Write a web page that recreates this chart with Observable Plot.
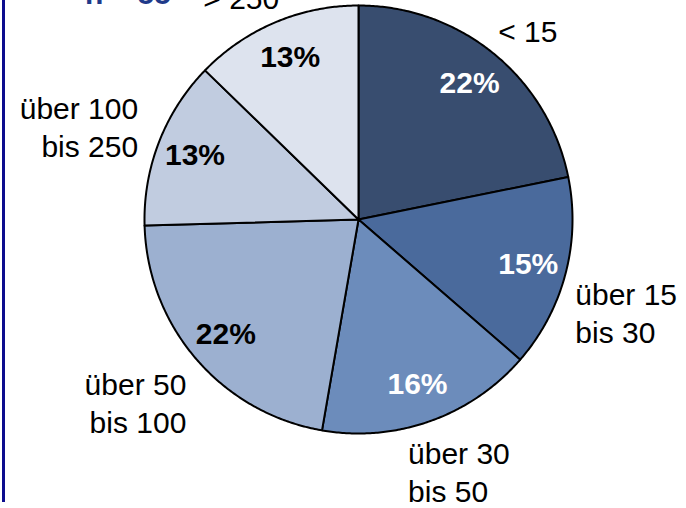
<!DOCTYPE html>
<html><head><meta charset="utf-8">
<script src="https://cdn.jsdelivr.net/npm/d3@7"></script>
<script src="https://cdn.jsdelivr.net/npm/@observablehq/plot@0.6"></script>
<style>
body{margin:0;background:#fff;}
#wrap{position:relative;width:686px;height:508px;overflow:hidden;font-family:"Liberation Sans",Arial,Helvetica,sans-serif;}
#bar{position:absolute;left:2px;top:0;width:3px;height:502px;background:#0c0c8e;}
#n{position:absolute;left:85px;top:-21px;font-size:30px;font-weight:bold;color:#1f3a8a;line-height:30px;white-space:nowrap;}
#chart{position:absolute;left:0;top:0;}
</style></head><body>
<div id="wrap"><div id="chart"></div><div id="bar"></div><div id="n">n = 55</div></div>
<script>
// Data (n = 55)
const categories = ["< 15", "über 15\nbis 30", "über 30\nbis 50", "über 50\nbis 100", "über 100\nbis 250", "> 250"];
const counts = [12, 8, 9, 12, 7, 7];
const percents = ["22%", "15%", "16%", "22%", "13%", "13%"];

// Styling
const palette = ["#384d6f", "#4a6a9c", "#6c8cbb", "#9cb0d0", "#c1cce0", "#dde3ee"];
const pctColors = ["white", "white", "white", "black", "black", "black"];
const labelNudges = [[-12, -4], [-15, 31], [-31, 26], [9, 25], [3, -7], [14, -2]];
const FONT = "'Liberation Sans', Arial, Helvetica, sans-serif";

const W = 686, H = 508, R = 214, cx = 358, cy = 219;

const arcs = d3.pie().sort(null).value(d => d)(counts);
const slices = arcs.map((p, i) => ({
  cat: categories[i], pct: percents[i], i,
  start: p.startAngle, end: p.endAngle, mid: (p.startAngle + p.endAngle) / 2
}));
const pts = [];
for (const s of slices) {
  pts.push({cat: s.cat, x: 0, y: 0});
  const n = Math.max(2, Math.ceil((s.end - s.start) / (Math.PI / 360)));
  for (let k = 0; k <= n; k++) {
    const a = s.start + (s.end - s.start) * k / n;
    pts.push({cat: s.cat, x: Math.sin(a), y: Math.cos(a)});
  }
}

const marks = [
  Plot.line(pts, {x: "x", y: "y", z: "cat", fill: "cat", stroke: "black", strokeWidth: 2,
    curve: "linear-closed", strokeLinejoin: "round"})
];
for (const color of ["white", "black"]) {
  marks.push(Plot.text(slices.filter(s => pctColors[s.i] === color), {
    x: d => 0.82 * Math.sin(d.mid), y: d => 0.82 * Math.cos(d.mid),
    text: "pct", fill: color, fontSize: 30, fontWeight: "bold", fontFamily: FONT
  }));
}
slices.forEach((s, i) => {
  marks.push(Plot.text([s], {
    x: d => 1.12 * Math.sin(d.mid), y: d => 1.12 * Math.cos(d.mid),
    text: "cat", textAnchor: s.mid < Math.PI ? "start" : "end",
    dx: labelNudges[i][0], dy: labelNudges[i][1],
    fontSize: 30, lineHeight: 1.27, fill: "black", fontFamily: FONT
  }));
});

const chart = Plot.plot({
  width: W, height: H, margin: 0,
  x: {domain: [-cx / R, (W - cx) / R], axis: null},
  y: {domain: [-(H - cy) / R, cy / R], axis: null},
  color: {domain: categories, range: palette},
  style: {fontFamily: FONT, background: "transparent", overflow: "visible"},
  marks
});
document.getElementById("chart").append(chart);
</script>
</body></html>
